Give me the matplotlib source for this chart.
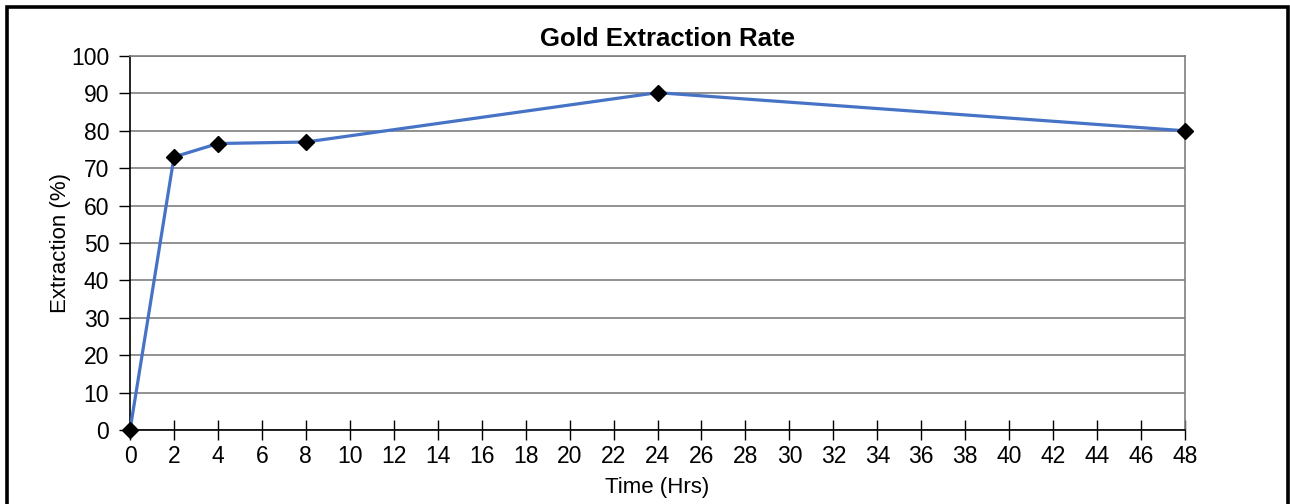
import matplotlib.pyplot as plt
from matplotlib.patches import Rectangle

plt.rcParams['font.family'] = ['Liberation Sans', 'DejaVu Sans']

# data
hours = [0, 2, 4, 8, 24, 48]
extraction = [0, 73.0, 76.6, 77.0, 90.2, 80.0]
x_ticks = list(range(0, 49, 2))
y_ticks = list(range(0, 101, 10))

fig = plt.figure(figsize=(12.9, 5.04), dpi=100)
ax = fig.add_axes([0.1008, 0.1468, 0.8178, 0.7421])

ax.plot(hours, extraction, color='#4673c6', lw=2.3, zorder=3, clip_on=False)
ax.plot(hours, extraction, ls='none', marker='D', color='black', ms=8.5, zorder=4, clip_on=False)

ax.set_xlim(0, 48)
ax.set_ylim(0, 100)
ax.set_xticks(x_ticks)
ax.set_yticks(y_ticks)
ax.tick_params(axis='both', labelsize=16.5, colors='black', length=8, width=1)
ax.tick_params(axis='x', direction='inout', length=15, pad=3)
ax.tick_params(axis='y', direction='out', pad=7)

ax.grid(axis='y', color='#7f7f7f', lw=1.2)
ax.set_axisbelow(True)
for s in ['left', 'bottom']:
    ax.spines[s].set_color('black')
    ax.spines[s].set_linewidth(1.2)
for s in ['top', 'right']:
    ax.spines[s].set_color('#7f7f7f')
    ax.spines[s].set_linewidth(1.2)

ax.set_title('Gold Extraction Rate', fontsize=18.5, fontweight='bold', pad=7, x=0.509)
ax.set_xlabel('Time (Hrs)', fontsize=16, labelpad=7)
ax.set_ylabel('Extraction (%)', fontsize=16, labelpad=0)

# outer black frame (bottom edge runs off the image)
fig.patches.append(Rectangle((7 / 1290, -0.05), 1281 / 1290, 1.05 - 7 / 504,
                             transform=fig.transFigure, fill=False,
                             edgecolor='black', lw=2.6))

fig.savefig('out.png', dpi=100)
